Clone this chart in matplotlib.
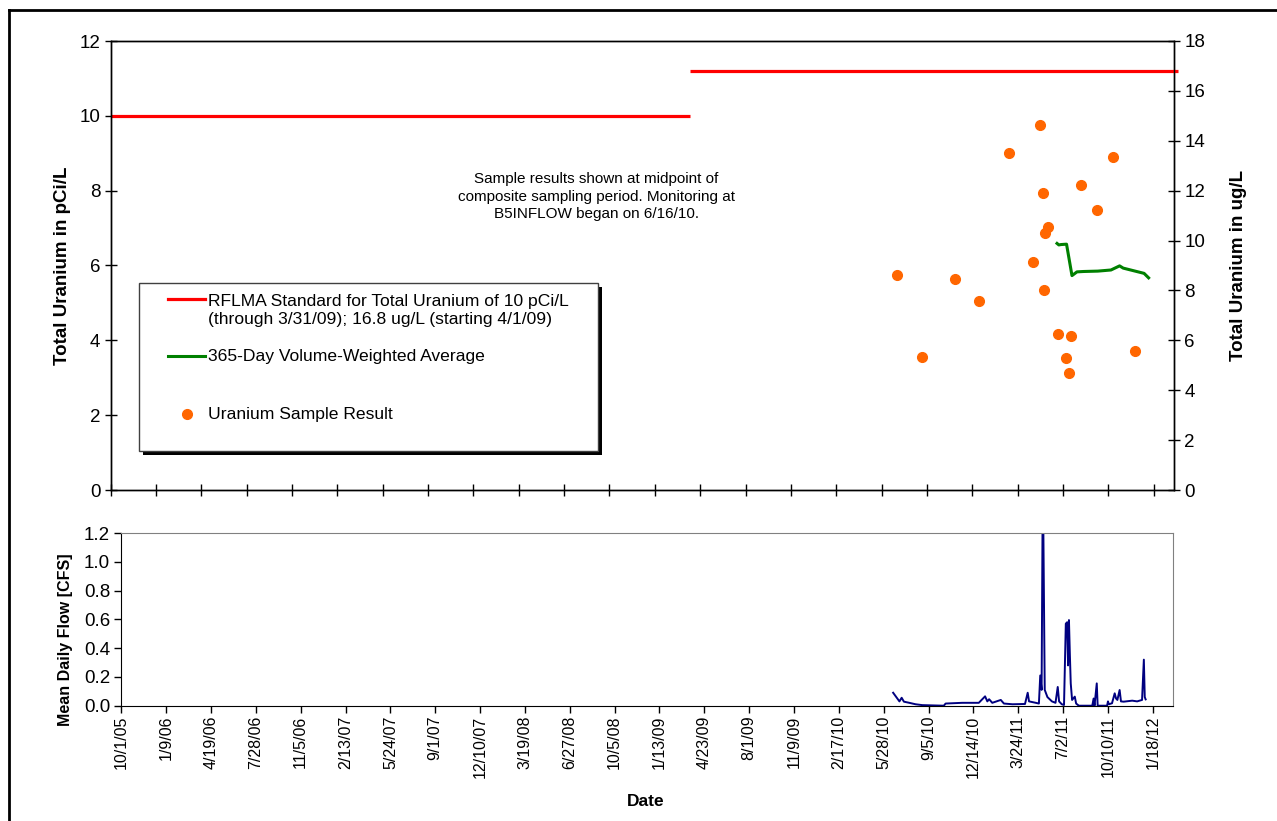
import pandas as pd
import numpy as np
import matplotlib
matplotlib.use("Agg")
import matplotlib.pyplot as plt
from matplotlib.lines import Line2D
from matplotlib.patches import Rectangle

plt.rcParams['font.family'] = ['Liberation Sans', 'DejaVu Sans']

# --- data ---
start = pd.Timestamp('2005-10-01')
axis_days = 2345

std_old_dates = ['2005-10-01', '2009-03-31']
std_old_pci = [10, 10]
std_new_dates = ['2009-04-01', '2012-03-11']
std_new_ugl = [16.8, 16.8]

sample_dates = ['2010-07-01', '2010-08-25', '2010-11-06', '2010-12-29', '2011-03-05',
                '2011-04-27', '2011-05-13', '2011-05-19', '2011-05-22', '2011-05-23',
                '2011-05-31', '2011-06-22', '2011-07-09', '2011-07-15', '2011-07-20',
                '2011-08-11', '2011-09-16', '2011-10-20', '2011-12-07']
sample_pci = [5.74, 3.56, 5.63, 5.04, 9.01, 6.10, 9.75, 7.94, 5.34, 6.88,
              7.02, 4.17, 3.53, 3.12, 4.12, 8.15, 7.48, 8.89, 3.71]

vwa_dates = ['2011-06-19', '2011-06-23', '2011-06-28', '2011-07-10', '2011-07-22',
             '2011-08-02', '2011-08-17', '2011-09-17', '2011-10-16', '2011-11-04',
             '2011-11-12', '2011-12-28', '2012-01-07']
vwa_pci = [6.59, 6.55, 6.56, 6.57, 5.73, 5.83, 5.84, 5.85, 5.88, 5.99, 5.93, 5.79, 5.67]

flow_day = [1721, 1735, 1740, 1745, 1757, 1771, 1786, 1834, 1838, 1875, 1912, 1926,
            1931, 1935, 1942, 1961, 1968, 1987, 2015, 2021, 2024, 2039, 2046, 2049,
            2052, 2054, 2056, 2059, 2065, 2075, 2083, 2088, 2091, 2097, 2102, 2106,
            2109, 2111, 2113, 2115, 2117, 2120, 2126, 2129, 2135, 2165, 2168, 2170,
            2175, 2177, 2198, 2200, 2202, 2209, 2215, 2218, 2221, 2226, 2229, 2235,
            2254, 2265, 2276, 2280, 2282, 2284]
flow_cfs = [0.09, 0.03, 0.055, 0.028, 0.02, 0.01, 0.004, 0.0, 0.015, 0.02, 0.02, 0.065,
            0.03, 0.045, 0.02, 0.04, 0.015, 0.01, 0.012, 0.09, 0.03, 0.02, 0.015, 0.21,
            0.11, 1.2, 1.2, 0.11, 0.06, 0.03, 0.02, 0.13, 0.03, 0.01, 0.005, 0.57,
            0.58, 0.28, 0.595, 0.36, 0.155, 0.04, 0.063, 0.015, 0.0, 0.0, 0.05, 0.0,
            0.155, 0.0, 0.0, 0.03, 0.01, 0.017, 0.086, 0.05, 0.04, 0.109, 0.03, 0.028,
            0.035, 0.03, 0.04, 0.32, 0.06, 0.044]

tick_dates = pd.date_range(start, periods=24, freq='100D')
flow_dates = start + pd.to_timedelta(flow_day, unit='D')

W, H = 1277, 821
fig = plt.figure(figsize=(W / 100, H / 100), dpi=100)

def fx(px):
    return px / W

def fy(py):
    return 1 - py / H

ax = fig.add_axes([fx(110.7), fy(490), fx(1174 - 110.7), (490 - 41) / H])
ax2 = ax.twinx()
axf = fig.add_axes([fx(121.3), fy(705.7), fx(1173 - 121.3), (705.7 - 533) / H])

xlim = (start, start + pd.Timedelta(days=axis_days))

# top panel
ax.plot(pd.to_datetime(std_old_dates), std_old_pci, color='#ff0000', lw=2.3, solid_capstyle='butt')
ax2.plot(pd.to_datetime(std_new_dates), std_new_ugl, color='#ff0000', lw=2.3,
         solid_capstyle='butt', clip_on=False)
ax.plot(pd.to_datetime(vwa_dates), vwa_pci, color='#008000', lw=2.2)
ax.plot(pd.to_datetime(sample_dates), sample_pci, 'o', color='#ff6600', ms=7, mec='#ff6600')

ax.set_xlim(xlim)
ax2.set_xlim(xlim)
ax.set_ylim(0, 12)
ax2.set_ylim(0, 18)
ax.set_yticks(range(0, 13, 2))
ax2.set_yticks(range(0, 19, 2))
ax.set_xticks(tick_dates)
ax.tick_params(axis='x', labelbottom=False, direction='inout', length=9, width=1)
ax.tick_params(axis='y', direction='inout', length=9, width=1, labelsize=13.5, pad=3)
ax2.tick_params(axis='y', direction='inout', length=9, width=1, labelsize=13.5, pad=3)
for a in (ax, ax2):
    for s in a.spines.values():
        s.set_linewidth(1)
        s.set_color('black')

ax.set_ylabel('Total Uranium in pCi/L', fontsize=13.5, fontweight='bold')
ax.yaxis.set_label_coords(-0.037, 0.5)
ax2.set_ylabel('Total Uranium in ug/L', fontsize=13.5, fontweight='bold')
ax2.yaxis.set_label_coords(1.053, 0.5)

ax.text(fx(596), fy(196.5), 'Sample results shown at midpoint of\ncomposite sampling period. Monitoring at\nB5INFLOW began on 6/16/10.',
        transform=fig.transFigure, ha='center', va='center', fontsize=11, linespacing=1.3)

# bottom panel
axf.plot(flow_dates, flow_cfs, color='#000080', lw=1.4)
axf.set_xlim(xlim)
axf.set_ylim(0, 1.2)
axf.set_yticks(np.arange(0, 1.21, 0.2))
axf.yaxis.set_major_formatter(plt.FuncFormatter(lambda v, p: f'{v:.1f}'))
axf.set_xticks(tick_dates)
axf.set_xticklabels([f'{d.month}/{d.day}/{d.strftime("%y")}' for d in tick_dates],
                    rotation=90, fontsize=11.5)
axf.tick_params(axis='x', direction='out', length=5, width=1, pad=2)
axf.tick_params(axis='y', direction='out', length=5, width=1, labelsize=13.5, pad=3)
axf.spines['top'].set_color('#808080')
axf.spines['right'].set_color('#808080')
axf.set_ylabel('Mean Daily Flow [CFS]', fontsize=11.5, fontweight='bold')
axf.yaxis.set_label_coords(-0.046, 0.38)
axf.set_xlabel('Date', fontsize=12.5, fontweight='bold')
axf.xaxis.set_label_coords(0.499, -0.512)

# legend box drawn by hand to keep Excel's layout
lx0, lx1, ly0, ly1 = 139, 598, 283, 451
fig.add_artist(Rectangle((fx(lx0 + 4), fy(ly1 + 4)), fx(lx1 - lx0), (ly1 - ly0) / H,
                         transform=fig.transFigure, facecolor='black', edgecolor='none'))
fig.add_artist(Rectangle((fx(lx0), fy(ly1)), fx(lx1 - lx0), (ly1 - ly0) / H,
                         transform=fig.transFigure, facecolor='white', edgecolor='#404040', lw=1))
fig.add_artist(Line2D([fx(168), fx(205)], [fy(299), fy(299)], color='#ff0000', lw=2.3))
fig.add_artist(Line2D([fx(168), fx(205)], [fy(356), fy(356)], color='#008000', lw=2.2))
fig.add_artist(Line2D([fx(187)], [fy(414)], marker='o', color='#ff6600', ms=7))
fig.text(fx(208), fy(310.5), 'RFLMA Standard for Total Uranium of 10 pCi/L\n(through 3/31/09); 16.8 ug/L (starting 4/1/09)',
         ha='left', va='center', fontsize=12.6, linespacing=1.25)
fig.text(fx(208), fy(356), '365-Day Volume-Weighted Average', ha='left', va='center', fontsize=12.6)
fig.text(fx(208), fy(414), 'Uranium Sample Result', ha='left', va='center', fontsize=12.6)

# outer chart border (left and top visible)
fig.add_artist(Line2D([fx(9), fx(9)], [fy(10), 0], color='black', lw=2))
fig.add_artist(Line2D([fx(9), 1], [fy(10), fy(10)], color='black', lw=2))

fig.savefig('out.png', dpi=100)
